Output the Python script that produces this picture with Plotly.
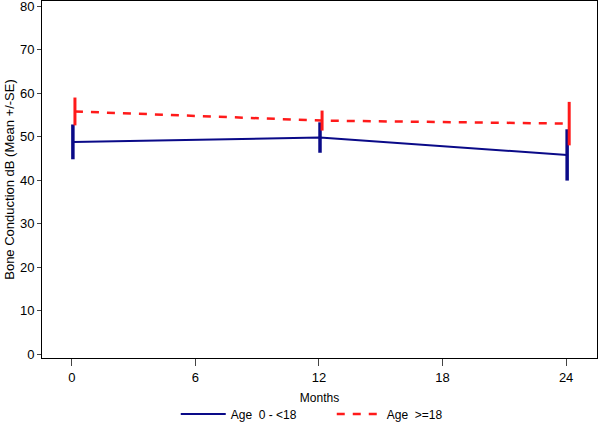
import plotly.graph_objects as go

months = [0, 12, 24]
young_mean = [48.8, 49.8, 45.8]
young_se = [4.0, 3.5, 5.9]
adult_mean = [55.8, 53.7, 53.0]
adult_se = [3.2, 2.3, 5.0]
x_ticks = [0, 6, 12, 18, 24]
y_ticks = [0, 10, 20, 30, 40, 50, 60, 70, 80]

BLUE = "#0a0a88"
RED = "#ff1a1a"
FONT = "Liberation Sans, Arial"

fig = go.Figure()
fig.add_trace(go.Scatter(
    x=[m + 0.05 for m in months], y=young_mean, mode="lines",
    name="Age  0 - <18",
    line=dict(color=BLUE, width=2),
    error_y=dict(type="data", array=young_se, visible=True, color=BLUE, thickness=3.5, width=0),
))
fig.add_trace(go.Scatter(
    x=[m + 0.15 for m in months], y=adult_mean, mode="lines",
    name="Age  >=18",
    line=dict(color=RED, width=2.5, dash="8px,8px"),
    error_y=dict(type="data", array=adult_se, visible=True, color=RED, thickness=3, width=0),
))

fig.update_layout(
    width=600, height=430,
    margin=dict(l=42, r=3, t=1, b=66),
    paper_bgcolor="white", plot_bgcolor="white",
    font=dict(family=FONT, size=12, color="black"),
    showlegend=True,
    legend=dict(orientation="h", x=0.241, xanchor="left", y=-0.157, yanchor="middle",
                font=dict(size=12), itemwidth=45, entrywidth=96,
                entrywidthmode="pixels", traceorder="normal", tracegroupgap=0),
    xaxis=dict(range=[-1.45, 25.5], tickvals=x_ticks, ticks="outside", ticklen=7,
               tickfont=dict(size=13), automargin=False,
               showgrid=False, zeroline=False, showline=True, linecolor="black", linewidth=1,
               mirror=True, title=dict(text="Months", standoff=10, font=dict(size=12))),
    yaxis=dict(range=[-0.9, 81.2], tickvals=y_ticks, ticks="outside", ticklen=4,
               tickfont=dict(size=13), ticklabeloverflow="allow", automargin=False,
               showgrid=False, zeroline=False, showline=True, linecolor="black", linewidth=1,
               mirror=True, title=dict(text="Bone Conduction dB (Mean +/-SE)", standoff=2,
                                       font=dict(size=13))),
)

fix_page = (
    "var s=document.createElement('style');"
    "s.textContent='html,body{margin:0;padding:0;height:430px;overflow:hidden;}"
    "body>div{height:430px;overflow:hidden;line-height:0;}';"
    "document.head.appendChild(s);"
    "var d=document.getElementById('{plot_id}');d.style.display='block';"
)
fig.write_html("out.html", config={"displayModeBar": False}, post_script=fix_page)
